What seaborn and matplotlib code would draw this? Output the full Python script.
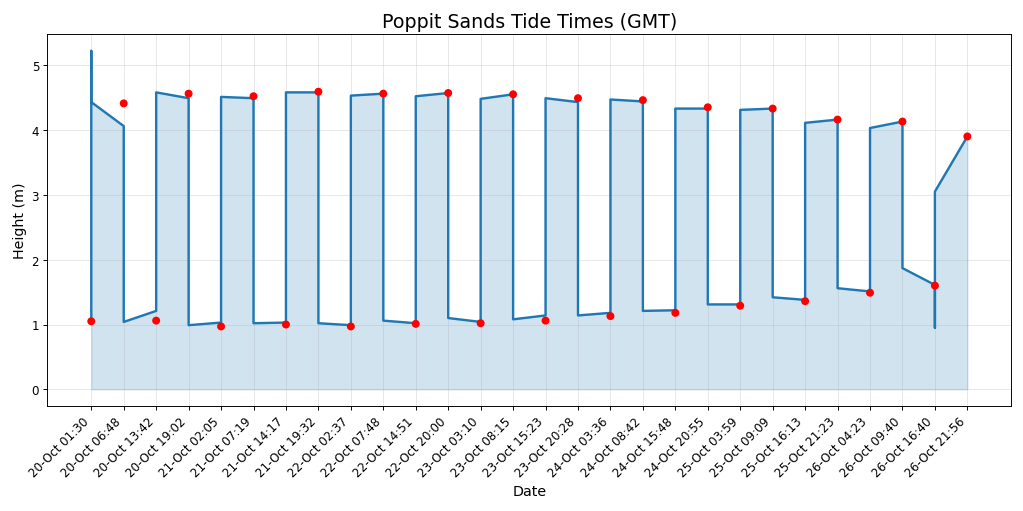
import numpy as np
import pandas as pd
import matplotlib
matplotlib.use("Agg")
import matplotlib.pyplot as plt
import seaborn as sns

plt.rcParams["font.family"] = ["DejaVu Sans"]

# tide times (x categories)
tide_labels = [
    "20-Oct 01:30", "20-Oct 06:48", "20-Oct 13:42", "20-Oct 19:02",
    "21-Oct 02:05", "21-Oct 07:19", "21-Oct 14:17", "21-Oct 19:32",
    "22-Oct 02:37", "22-Oct 07:48", "22-Oct 14:51", "22-Oct 20:00",
    "23-Oct 03:10", "23-Oct 08:15", "23-Oct 15:23", "23-Oct 20:28",
    "24-Oct 03:36", "24-Oct 08:42", "24-Oct 15:48", "24-Oct 20:55",
    "25-Oct 03:59", "25-Oct 09:09", "25-Oct 16:13", "25-Oct 21:23",
    "26-Oct 04:23", "26-Oct 09:40", "26-Oct 16:40", "26-Oct 21:56",
]

# tide heights (red points)
tide_heights = [
    1.05, 4.41, 1.06, 4.56, 0.97, 4.52, 1.00, 4.59,
    0.97, 4.56, 1.01, 4.57, 1.02, 4.55, 1.06, 4.49,
    1.13, 4.46, 1.18, 4.35, 1.29, 4.33, 1.36, 4.16,
    1.49, 4.13, 1.60, 3.90,
]

# the blue curve: which tide each vertex sits on, and its height
curve_tide = [
    0, 0, 0, 1, 1, 2, 2, 3, 3, 4, 4, 5, 5, 6, 6, 7, 7,
    8, 8, 9, 9, 10, 10, 11, 11, 12, 12, 13, 13, 14, 14, 15, 15,
    16, 16, 17, 17, 18, 18, 19, 19, 20, 20, 21, 21, 22, 22, 23, 23,
    24, 24, 25, 25, 26, 26, 26, 27,
]
curve_height = [
    1.05, 5.22, 4.43, 4.06, 1.04, 1.21, 4.58, 4.49, 0.99, 1.03, 4.51,
    4.49, 1.02, 1.03, 4.58, 4.58, 1.02,
    0.99, 4.53, 4.56, 1.06, 1.02, 4.52, 4.57, 1.10,
    1.04, 4.48, 4.55, 1.08, 1.14, 4.49, 4.43, 1.14,
    1.18, 4.47, 4.44, 1.21, 1.22, 4.33, 4.33, 1.31,
    1.31, 4.31, 4.33, 1.42, 1.38, 4.11, 4.16, 1.56,
    1.51, 4.03, 4.13, 1.87, 1.61, 0.95, 3.05, 3.90,
]

curve = pd.DataFrame({"pos": curve_tide, "height": curve_height})
tides = pd.DataFrame({"pos": np.arange(len(tide_labels)), "height": tide_heights})

fig, ax = plt.subplots(figsize=(12, 6), dpi=85.33)

sns.lineplot(data=curve, x="pos", y="height", sort=False, estimator=None,
             color="#1f77b4", linewidth=2, ax=ax)
ax.fill_between(curve["pos"], curve["height"], color="#1f77b4", alpha=0.2)
sns.scatterplot(data=tides, x="pos", y="height", color="red", s=45,
                edgecolor="none", zorder=3, ax=ax)

ax.set_xticks(tides["pos"])
ax.set_xticklabels(tide_labels, rotation=45, ha="right")
ax.grid(alpha=0.3)
ax.set_title("Poppit Sands Tide Times (GMT)", fontsize=16)
ax.set_xlabel("Date", fontsize=12)
ax.set_ylabel("Height (m)", fontsize=12)

plt.tight_layout()
plt.savefig("out.png", dpi=85.33)
